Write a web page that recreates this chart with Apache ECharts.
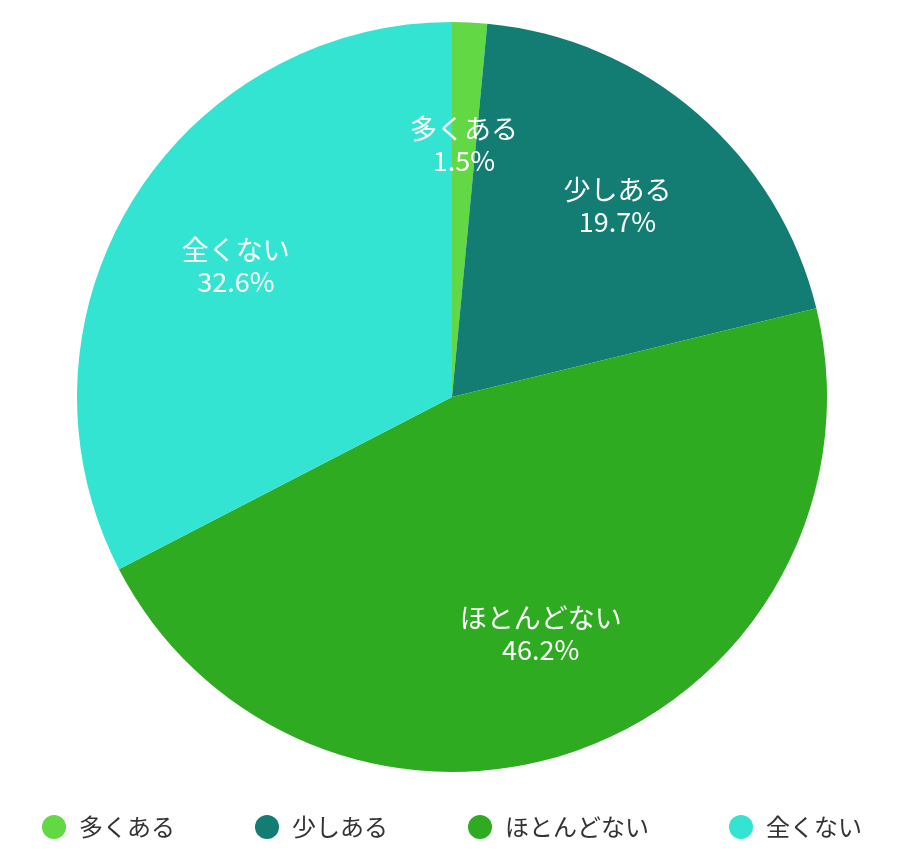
<!DOCTYPE html><html><head><meta charset="utf-8"><script src="https://cdn.jsdelivr.net/npm/echarts@6/dist/echarts.min.js"></script></head><body style="margin:0"><div id="c" style="width:904px;height:858px"></div><script>
const categories=['多くある','少しある','ほとんどない','全くない'];
const values=[1.5,19.7,46.2,32.6];
const colors=['#62d844','#137d74','#2fab22','#33e4d2'];
const data=categories.map((n,i)=>({name:n,value:values[i],itemStyle:{color:colors[i]}}));
const font='"Noto Sans CJK JP","Noto Sans",sans-serif';
const chart=echarts.init(document.getElementById('c'));
chart.setOption({
 animation:false,
 legend:{bottom:14,left:'center',itemGap:80,itemWidth:24,itemHeight:24,icon:'circle',
  textStyle:{fontSize:24,color:'#333',fontFamily:font,padding:[0,0,0,8]},data:categories},
 series:[
  {type:'pie',center:[452,397],radius:[0,375],startAngle:90,data:data,label:{show:false},labelLine:{show:false},emphasis:{disabled:true}},
  {type:'pie',center:[452,397],radius:[0,500],startAngle:90,silent:true,
   data:categories.map((n,i)=>({name:n,value:values[i],itemStyle:{color:'rgba(0,0,0,0)'}})),
   label:{show:true,position:'inside',formatter:'{b}\n{c}%',color:'#fff',fontSize:27,lineHeight:32,fontFamily:font},
   labelLine:{show:false},emphasis:{disabled:true}}
 ]
});
</script></body></html>
